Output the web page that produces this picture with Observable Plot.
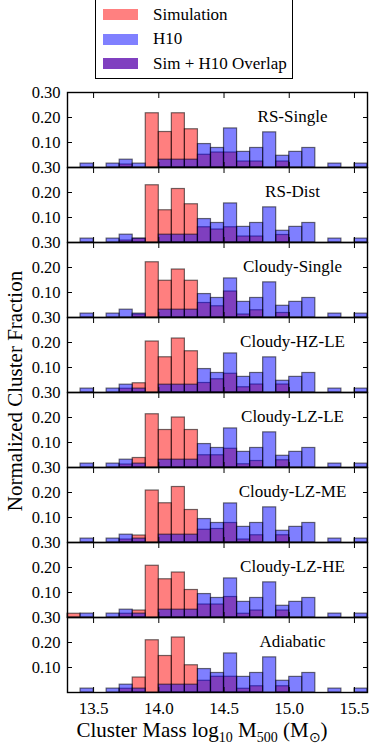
<!DOCTYPE html>
<html>
<head>
<meta charset="utf-8">
<script src="https://cdn.jsdelivr.net/npm/d3@7"></script>
<script src="https://cdn.jsdelivr.net/npm/@observablehq/plot@0.6"></script>
<style>
  html, body { margin: 0; padding: 0; background: #fff; }
  body { width: 374px; height: 747px; position: relative; overflow: hidden; font-family: "Liberation Serif", "Times New Roman", serif; color: #000; }
  #legend { position: absolute; left: 95px; top: -2px; width: 196px; height: 79px; border: 1.5px solid #000; box-sizing: content-box; background: #fff; }
  .item { position: absolute; left: 7px; height: 11px; display: flex; align-items: center; font-size: 17px; }
  .sw { width: 35px; height: 11px; margin-right: 15px; flex: none; }
  #chart { position: absolute; left: 0; top: 80px; }
  #ytitle { position: absolute; left: 15px; top: 391px; transform: translate(-50%, -50%) rotate(-90deg); white-space: nowrap; font-size: 21px; line-height: 1; }
  #xtitle { position: absolute; left: 0; width: 374px; top: 720.5px; text-align: center; font-size: 21px; padding-left: 30px; box-sizing: border-box; white-space: nowrap; line-height: 0.9; }
  #xtitle sub { font-size: 14px; vertical-align: -5px; line-height: 0; }
</style>
</head>
<body>
<div id="legend"></div>
<div id="chart"></div>
<div id="ytitle">Normalized Cluster Fraction</div>
<div id="xtitle">Cluster Mass log<sub>10</sub> M<sub>500</sub> (M<sub>⊙</sub>)</div>
<script>
// ---- data ----
const panels = ["RS-Single", "RS-Dist", "Cloudy-Single", "Cloudy-HZ-LE", "Cloudy-LZ-LE", "Cloudy-LZ-ME", "Cloudy-LZ-HE", "Adiabatic"];
const binLeft  = [13.3, 13.4, 13.5, 13.6, 13.7, 13.8, 13.9, 14.0, 14.1, 14.2, 14.3, 14.4, 14.5, 14.6, 14.7, 14.8, 14.9, 15.0, 15.1, 15.2, 15.3, 15.4, 15.5];
const binRight = [13.4, 13.5, 13.6, 13.7, 13.8, 13.9, 14.0, 14.1, 14.2, 14.3, 14.4, 14.5, 14.6, 14.7, 14.8, 14.9, 15.0, 15.1, 15.2, 15.3, 15.4, 15.5, 15.6];
// H10 normalized fraction (same in every panel)
const h10 = [0, 0.0156, 0, 0.0156, 0.0313, 0.0156, 0, 0.0313, 0.0313, 0.0313, 0.0938, 0.0781, 0.1563, 0.0625, 0.0781, 0.1406, 0.0469, 0.0625, 0.0781, 0, 0.0156, 0, 0.0156];
// Simulation normalized fraction per panel
const simRSSingle    = [0, 0, 0, 0, 0.012, 0,     0.217, 0.142, 0.217, 0.153, 0.051, 0.060, 0.060, 0.024, 0.024, 0, 0.024, 0, 0, 0, 0, 0, 0];
const simRSDist      = [0, 0, 0, 0, 0.008, 0.015, 0.229, 0.129, 0.214, 0.153, 0.061, 0.052, 0.061, 0.024, 0.024, 0, 0.030, 0, 0, 0, 0, 0, 0];
const simCloudySingle= [0, 0, 0, 0, 0,     0.012, 0.221, 0.147, 0.192, 0.147, 0.058, 0.045, 0.104, 0.012, 0.029, 0, 0.018, 0, 0, 0, 0, 0, 0];
const simCloudyHZLE  = [0, 0, 0, 0, 0.015, 0.037, 0.204, 0.141, 0.216, 0.165, 0.038, 0.053, 0.075, 0.021, 0.032, 0, 0.032, 0, 0, 0, 0, 0, 0];
const simCloudyLZLE  = [0, 0, 0, 0, 0.012, 0.038, 0.213, 0.150, 0.200, 0.150, 0.049, 0.049, 0.075, 0.013, 0.026, 0, 0.029, 0, 0, 0, 0, 0, 0];
const simCloudyLZME  = [0, 0, 0, 0, 0.012, 0.028, 0.208, 0.157, 0.222, 0.130, 0.051, 0.054, 0.078, 0.012, 0.029, 0, 0.029, 0, 0, 0, 0, 0, 0];
const simCloudyLZHE  = [0.015, 0, 0, 0, 0.015, 0.028, 0.207, 0.153, 0.180, 0.110, 0.052, 0.052, 0.082, 0.015, 0.028, 0, 0.028, 0, 0, 0, 0, 0, 0];
const simAdiabatic   = [0, 0, 0, 0, 0.015, 0.060, 0.209, 0.146, 0.220, 0.109, 0.047, 0.063, 0.063, 0.015, 0.025, 0, 0.025, 0, 0, 0, 0, 0, 0];
const xTicks = [13.5, 14.0, 14.5, 15.0, 15.5];
const yTicks = [0.1, 0.2, 0.3];
const yMinorTicks = [0.1, 0.2];
const legendLabels = ["Simulation", "H10", "Sim + H10 Overlap"];
const legendColors = ["#ff8080", "#8080ff", "#8040c0"];

// ---- build table ----
const sims = [simRSSingle, simRSDist, simCloudySingle, simCloudyHZLE, simCloudyLZLE, simCloudyLZME, simCloudyLZHE, simAdiabatic];
const table = [];
panels.forEach((p, i) => {
  binLeft.forEach((b, j) => {
    table.push({panel: p, x1: b, x2: binRight[j], sim: sims[i][j], h10: h10[j]});
  });
});

// ---- legend ----
const leg = document.getElementById("legend");
legendLabels.forEach((t, i) => {
  const d = document.createElement("div");
  d.className = "item";
  d.style.top = (10 + i * 24.5) + "px";
  d.innerHTML = `<span class="sw" style="background:${legendColors[i]}"></span><span>${t}</span>`;
  leg.appendChild(d);
});

// ---- chart ----
const barStyle = {stroke: "#000", strokeOpacity: 0.55, strokeWidth: 1.2, fillOpacity: 0.5};
const chart = Plot.plot({
  width: 374,
  height: 640,
  marginLeft: 67,
  marginRight: 7,
  marginTop: 9.3,
  marginBottom: 25.9,
  style: {fontFamily: "\"Liberation Serif\", \"Times New Roman\", serif", fontSize: "16px", background: "#fff", color: "#000"},
  x: {domain: [13.3, 15.6]},
  y: {domain: [0, 0.3]},
  fy: {domain: panels, padding: 0, axis: null},
  marks: [
    Plot.rectY(table.filter(d => d.sim > 0), {x1: "x1", x2: "x2", y1: 0, y2: "sim", fy: "panel", fill: "#ff0000", ...barStyle}),
    Plot.rectY(table.filter(d => d.h10 > 0), {x1: "x1", x2: "x2", y1: 0, y2: "h10", fy: "panel", fill: "#0000ff", ...barStyle}),
    Plot.frame({stroke: "#000", strokeWidth: 1.4}),
    Plot.axisY({anchor: "left", ticks: yTicks, tickSize: 0, tickPadding: 7, tickFormat: d => d.toFixed(2), facetAnchor: null, label: null, fontSize: 16.5}),
    Plot.axisY({anchor: "left", ticks: yMinorTicks, tickSize: -5, tickFormat: () => "", facetAnchor: null, label: null}),
    Plot.axisY({anchor: "right", ticks: yMinorTicks, tickSize: -5, tickFormat: () => "", facetAnchor: null, label: null}),
    Plot.axisX({anchor: "bottom", ticks: xTicks, tickSize: -5, tickFormat: () => "", facetAnchor: null, label: null}),
    Plot.axisX({anchor: "top", ticks: xTicks, tickSize: -5, tickFormat: () => "", facetAnchor: null, label: null}),
    Plot.axisX({anchor: "bottom", ticks: xTicks, tickSize: 0, tickPadding: 9.5, tickFormat: d => d.toFixed(1), label: null, fontSize: 17}),
    Plot.text(panels, {fy: d => d, text: d => d, frameAnchor: "top-right", textAnchor: "middle", dx: -75, dy: 17, fontSize: 17})
  ]
});
document.getElementById("chart").appendChild(chart);
</script>
</body>
</html>
